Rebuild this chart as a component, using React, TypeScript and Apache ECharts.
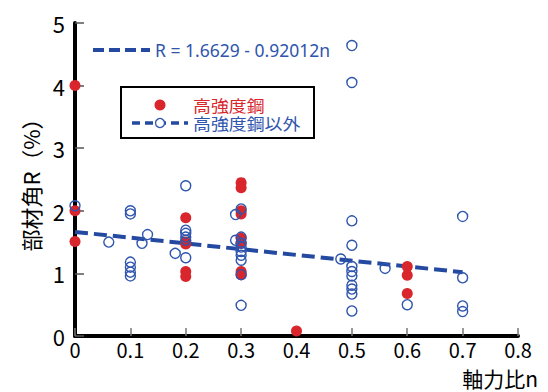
import React, { useEffect, useRef } from "react";
import * as echarts from "echarts";

const xTicks = [0, 0.1, 0.2, 0.3, 0.4, 0.5, 0.6, 0.7, 0.8];
const yTicks = [0, 1, 2, 3, 4, 5];

// 高強度鋼 (red, filled)
const highStrengthN = [0, 0, 0, 0.2, 0.2, 0.2, 0.2, 0.2, 0.3, 0.3, 0.3, 0.3, 0.3, 0.3, 0.3, 0.3, 0.4, 0.6, 0.6, 0.6];
const highStrengthR = [4.0, 2.0, 1.51, 1.89, 1.5, 1.47, 1.03, 0.95, 2.45, 2.37, 2.0, 1.95, 1.56, 1.48, 1.03, 0.98, 0.08, 1.11, 0.97, 0.68];

// 高強度鋼以外 (blue, open)
const otherN = [
  0, 0.061, 0.1, 0.1, 0.1, 0.1, 0.1, 0.1, 0.121, 0.131, 0.181,
  0.2, 0.2, 0.2, 0.2, 0.2, 0.2,
  0.29, 0.29, 0.3, 0.3, 0.3, 0.3, 0.3, 0.3, 0.3, 0.3, 0.3,
  0.48, 0.5, 0.5, 0.5, 0.5, 0.5, 0.5, 0.5, 0.5, 0.5, 0.5, 0.5,
  0.56, 0.6, 0.7, 0.7, 0.7, 0.7,
];
const otherR = [
  2.08, 1.5, 2.0, 1.95, 1.18, 1.1, 1.02, 0.96, 1.48, 1.62, 1.32,
  2.4, 1.69, 1.64, 1.58, 1.53, 1.25,
  1.94, 1.53, 2.03, 1.58, 1.48, 1.42, 1.35, 1.29, 1.21, 0.98, 0.49,
  1.23, 4.64, 4.05, 1.84, 1.45, 1.11, 1.03, 0.96, 0.81, 0.75, 0.67, 0.4,
  1.08, 0.5, 1.91, 0.93, 0.48, 0.39,
];

// Regression: R = 1.6629 - 0.92012n, drawn over n = 0 .. 0.7
const regIntercept = 1.6629;
const regSlope = -0.92012;
const regRange = [0, 0.7];

const RED = "#d8262c";
const BLUE = "#2f55ad";
const LINE_BLUE = "#2449a0";
const FONT = "'Liberation Sans Narrow', 'Noto Sans CJK JP', 'Liberation Sans', sans-serif";
const JFONT = "'Noto Sans CJK JP', sans-serif";

export default function App() {
  const ref = useRef<HTMLDivElement>(null);
  useEffect(() => {
    if (!ref.current) return;
    const chart = echarts.init(ref.current, null, { renderer: "svg" });
    const redData = highStrengthN.map((n, i) => [n, highStrengthR[i]]);
    const blueData = otherN.map((n, i) => [n, otherR[i]]);
    const regData = regRange.map((n) => [n, regIntercept + regSlope * n]);
    chart.setOption({
      animation: false,
      backgroundColor: "#fff",
      grid: { left: 75, right: 30, top: 23, bottom: 56 },
      xAxis: {
        type: "value",
        min: xTicks[0],
        max: xTicks[xTicks.length - 1],
        interval: 0.1,
        axisLine: { lineStyle: { color: "#000", width: 4 } },
        axisTick: { inside: true, length: 8, lineStyle: { color: "#777", width: 1.5 } },
        splitLine: { show: false },
        axisLabel: {
          color: "#000",
          fontSize: 20,
          fontFamily: FONT,
          margin: 3,
          formatter: (v: number) => (v === 0 ? "0" : v.toFixed(1)),
        },
      },
      yAxis: {
        type: "value",
        min: yTicks[0],
        max: yTicks[yTicks.length - 1],
        interval: 1,
        name: "部材角R（%）",
        nameLocation: "middle",
        nameGap: 34,
        nameRotate: 90,
        nameTextStyle: { color: "#000", fontSize: 22, fontFamily: JFONT },
        axisLine: { show: true, lineStyle: { color: "#000", width: 4 } },
        axisTick: { show: true, inside: true, length: 9, lineStyle: { color: "#555", width: 1.5 } },
        splitLine: { show: false },
        axisLabel: { color: "#000", fontSize: 22, fontFamily: FONT, margin: 10 },
      },
      series: [
        {
          name: "回帰",
          type: "line",
          data: regData,
          symbol: "none",
          lineStyle: { color: LINE_BLUE, width: 4, type: [13, 6] },
          z: 2,
        },
        {
          name: "高強度鋼",
          type: "scatter",
          data: redData,
          symbol: "circle",
          symbolSize: 11,
          itemStyle: { color: RED, opacity: 1 },
          z: 3,
        },
        {
          name: "高強度鋼以外",
          type: "scatter",
          data: blueData,
          symbol: "circle",
          symbolSize: 10,
          itemStyle: { color: "rgba(255,255,255,0)", borderColor: BLUE, borderWidth: 1.4, opacity: 1 },
          z: 4,
        },
      ],
      graphic: [
        {
          type: "line",
          shape: { x1: 93, y1: 50, x2: 150, y2: 50 },
          style: { stroke: LINE_BLUE, lineWidth: 4, lineDash: [11, 5] },
        },
        {
          type: "text",
          x: 155,
          y: 50,
          style: {
            text: "R = 1.6629 - 0.92012n",
            fill: BLUE,
            fontSize: 17.5,
            fontFamily: "'Noto Sans', sans-serif",
            textVerticalAlign: "middle",
          },
        },
        {
          type: "rect",
          shape: { x: 121, y: 87, width: 193, height: 51 },
          style: { fill: "#fff", stroke: "#000", lineWidth: 2 },
          z: 10,
        },
        {
          type: "circle",
          shape: { cx: 160, cy: 105, r: 5.5 },
          style: { fill: RED },
          z: 11,
        },
        {
          type: "text",
          x: 193,
          y: 105,
          scaleX: 1.12,
          style: { text: "高強度鋼", fill: RED, fontSize: 16, fontFamily: JFONT, textVerticalAlign: "middle" },
          z: 11,
        },
        {
          type: "line",
          shape: { x1: 132, y1: 123, x2: 188, y2: 123 },
          style: { stroke: LINE_BLUE, lineWidth: 3.5, lineDash: [8, 5] },
          z: 11,
        },
        {
          type: "circle",
          shape: { cx: 160, cy: 123, r: 4.5 },
          style: { fill: "#fff", stroke: BLUE, lineWidth: 1.3 },
          z: 12,
        },
        {
          type: "text",
          x: 193,
          y: 123,
          scaleX: 1.12,
          style: { text: "高強度鋼以外", fill: BLUE, fontSize: 16, fontFamily: JFONT, textVerticalAlign: "middle" },
          z: 11,
        },
        {
          type: "text",
          x: 538,
          y: 378,
          style: {
            text: "軸力比n",
            fill: "#000",
            fontSize: 21,
            fontFamily: JFONT,
            textAlign: "right",
            textVerticalAlign: "middle",
          },
        },
      ],
    });
    return () => chart.dispose();
  }, []);
  return (
    <div
      ref={ref}
      style={{ position: "absolute", left: 0, top: 0, width: 548, height: 392 }}
    />
  );
}
